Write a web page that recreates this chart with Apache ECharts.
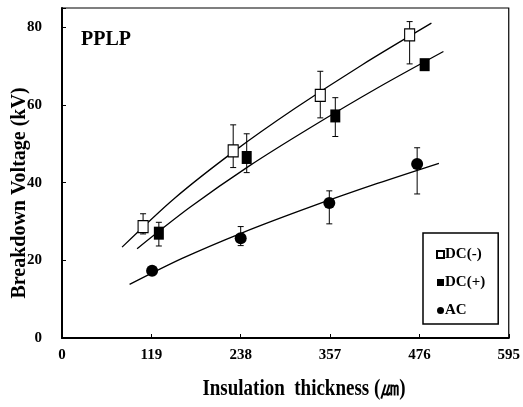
<!DOCTYPE html>
<html>
<head>
<meta charset="utf-8">
<script src="https://cdn.jsdelivr.net/npm/echarts@6/dist/echarts.min.js"></script>
<style>
  html, body { margin: 0; padding: 0; background: #fff; }
  #chart { width: 523px; height: 407px; }
</style>
</head>
<body>
<div id="chart"></div>
<script>
// x tick labels (thickness, um)
const xTicks = [0, 119, 238, 357, 476, 595]

// measured points: thickness, mean, error low, error high
const dcNegX = [108, 228, 344, 463]
const dcNegY = [28.7, 48.2, 62.5, 78.1]
const dcNegLo = [26.8, 43.9, 56.7, 70.6]
const dcNegHi = [32.0, 54.9, 68.7, 81.5]

const dcPosX = [129, 246, 364, 483]
const dcPosY = [27.0, 46.5, 57.2, 70.4]
const dcPosLo = [23.7, 42.6, 51.9, 69.5]
const dcPosHi = [29.8, 52.6, 61.9, 71.5]

const acX = [120, 238, 356, 473]
const acY = [17.3, 25.7, 34.8, 44.8]
const acLo = [17.3, 23.8, 29.4, 37.1]
const acHi = [17.3, 28.7, 37.9, 49.0]

// fitted curves
const fitNegX = [80, 150, 230, 310, 400, 492]
const fitNegY = [23.4, 36.0, 48.2, 59.1, 70.4, 81.1]
const fitPosX = [100, 170, 250, 330, 420, 508]
const fitPosY = [23.0, 33.6, 44.4, 54.1, 64.4, 73.8]
const fitAcX = [90, 160, 240, 330, 420, 502]
const fitAcY = [13.8, 20.5, 27.1, 33.7, 39.8, 45.0]

const serif = '"Liberation Serif", "Times New Roman", serif'

const zip = (a, b) => a.map((v, i) => [v, b[i]])
const zip3 = (a, b, c) => a.map((v, i) => [v, b[i], c[i]])

const errBars = (name, xs, lo, hi) => ({
    name: name + '_err',
    type: 'custom',
    z: 3,
    silent: true,
    data: zip3(xs, lo, hi),
    renderItem: (params, api) => {
        const x = api.value(0)
        const lo = api.coord([x, api.value(1)])
        const hi = api.coord([x, api.value(2)])
        const cap = 3
        const style = { stroke: '#000', lineWidth: 1 }
        return {
            type: 'group',
            children: [
                { type: 'line', shape: { x1: lo[0], y1: lo[1], x2: hi[0], y2: hi[1] }, style },
                { type: 'line', shape: { x1: lo[0] - cap, y1: lo[1], x2: lo[0] + cap, y2: lo[1] }, style },
                { type: 'line', shape: { x1: hi[0] - cap, y1: hi[1], x2: hi[0] + cap, y2: hi[1] }, style }
            ]
        }
    }
})

const fitLine = (name, xs, ys) => ({
    name: name + '_fit',
    type: 'line',
    smooth: 0.3,
    symbol: 'none',
    z: 2,
    silent: true,
    lineStyle: { color: '#000', width: 1.3 },
    data: zip(xs, ys)
})

const chart = echarts.init(document.getElementById('chart'))
chart.setOption({
    animation: false,
    backgroundColor: '#fff',
    grid: { left: 62, right: 13, top: 8, bottom: 69, show: true, borderColor: '#000', borderWidth: 1.2 },
    xAxis: {
        type: 'value',
        min: 0, max: 595, interval: 119,
        axisLine: { lineStyle: { color: '#000', width: 2 } },
        axisTick: { inside: true, length: 4, lineStyle: { color: '#000' } },
        axisLabel: { fontFamily: serif, fontWeight: 'bold', fontSize: 15, color: '#000', margin: 10,
            formatter: v => xTicks.includes(v) ? String(v) : '' },
        splitLine: { show: false }
    },
    yAxis: {
        type: 'value',
        min: 0, max: 85, interval: 20,
        axisLine: { lineStyle: { color: '#000', width: 2 } },
        axisTick: { inside: true, length: 4, lineStyle: { color: '#000' } },
        axisLabel: { fontFamily: serif, fontWeight: 'bold', fontSize: 15, color: '#000', margin: 20,
            formatter: v => v % 20 === 0 ? String(v) : '' },
        splitLine: { show: false }
    },
    legend: {
        data: ['DC(-)', 'DC(+)', 'AC'],
        orient: 'vertical',
        left: 423, top: 233,
        padding: [14, 13, 6, 13],
        itemGap: 13,
        itemWidth: 7, itemHeight: 7,
        borderColor: '#000', borderWidth: 1.5,
        backgroundColor: '#fff',
        textStyle: { fontFamily: serif, fontWeight: 'bold', fontSize: 15, color: '#000', padding: [0, 0, 0, -4] }
    },
    graphic: [
        {
            type: 'text',
            left: 81, top: 30,
            style: { text: 'PPLP', font: 'bold 20px ' + serif, fill: '#000' }
        },
        {
            type: 'text',
            x: 304, y: 389, scaleY: 1.25,
            style: { text: 'Insulation  thickness (㎛)', font: 'bold 19px ' + serif, fill: '#000',
                align: 'center', verticalAlign: 'middle' }
        },
        {
            type: 'text',
            x: 20, y: 193, rotation: Math.PI / 2,
            style: { text: 'Breakdown Voltage (kV)', font: 'bold 20px ' + serif, fill: '#000',
                align: 'center', verticalAlign: 'middle' }
        }
    ],
    series: [
        fitLine('DC(-)', fitNegX, fitNegY),
        fitLine('DC(+)', fitPosX, fitPosY),
        fitLine('AC', fitAcX, fitAcY),
        errBars('DC(-)', dcNegX, dcNegLo, dcNegHi),
        errBars('DC(+)', dcPosX, dcPosLo, dcPosHi),
        errBars('AC', acX, acLo, acHi),
        {
            name: 'DC(-)', type: 'scatter', z: 5,
            symbol: 'rect', symbolSize: [10, 12],
            itemStyle: { color: '#fff', borderColor: '#000', borderWidth: 1.2, opacity: 1 },
            data: zip(dcNegX, dcNegY)
        },
        {
            name: 'DC(+)', type: 'scatter', z: 5,
            symbol: 'rect', symbolSize: [10, 13],
            itemStyle: { color: '#000', opacity: 1 },
            data: zip(dcPosX, dcPosY)
        },
        {
            name: 'AC', type: 'scatter', z: 5,
            symbol: 'circle', symbolSize: 12,
            itemStyle: { color: '#000', opacity: 1 },
            data: zip(acX, acY)
        }
    ]
})
</script>
</body>
</html>
